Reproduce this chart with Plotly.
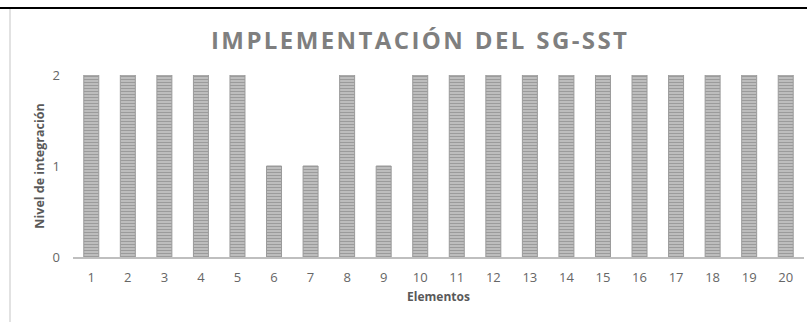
import plotly.graph_objects as go

# Elementos evaluados y su nivel de integración
elementos = [str(i) for i in range(1, 21)]
nivel = [2, 2, 2, 2, 2, 1, 1, 2, 1, 2, 2, 2, 2, 2, 2, 2, 2, 2, 2, 2]
y_ticks = [0, 1, 2]
titulo = "IMPLEMENTACIÓN DEL SG-SST"

W, H = 807, 322
ML, MR, MT, MB = 73, 3, 75, 65

# slight letter spacing for the title (hair spaces, en space between words)
titulo_espaciado = "\u2002".join("\u200a".join(p) for p in titulo.split(" "))

fig = go.Figure()
fig.add_trace(go.Bar(
    x=elementos,
    y=nivel,
    width=0.41,
    marker=dict(
        color="#c8c8c8",
        line=dict(color="#9a9a9a", width=1),
        pattern=dict(shape="-", fgcolor="#6a6a6a", bgcolor="#cdcdcd",
                     size=3, solidity=0.55, fillmode="overlay"),
    ),
    hoverinfo="x+y",
))

fig.update_layout(
    width=W, height=H,
    margin=dict(l=ML, r=MR, t=MT, b=MB),
    paper_bgcolor="white",
    plot_bgcolor="white",
    showlegend=False,
    font=dict(family="Open Sans, Lato, sans-serif", color="#595959", size=11),
    xaxis=dict(
        type="category",
        range=[-0.5, 19.5],
        showgrid=False,
        showline=True, linecolor="#bfbfbf", linewidth=2,
        ticks="", tickfont=dict(size=13, color="#666666"),
        ticklabelstandoff=7,
        title=dict(text="<b>Elementos</b>", font=dict(size=12, color="#595959"),
                   standoff=8),
    ),
    yaxis=dict(
        range=[0, 2],
        tickvals=y_ticks,
        showgrid=False, zeroline=False,
        showline=False, ticks="",
        tickfont=dict(size=13, color="#666666"),
        ticklabelstandoff=12,
        title=dict(text="<b>Nivel de integración</b>", font=dict(size=12.5, color="#595959"),
                   standoff=5),
    ),
    annotations=[
        dict(text="<b>" + titulo_espaciado + "</b>",
             xref="paper", yref="paper",
             x=(419 - ML) / (W - ML - MR), y=1 + (MT - 39) / (H - MT - MB),
             xanchor="center", yanchor="middle", showarrow=False,
             font=dict(size=24, color="#7f7f7f")),
    ],
    shapes=[
        # chart frame
        dict(type="line", xref="paper", yref="paper",
             x0=-(ML - 10) / (W - ML - MR), x1=-(ML - 10) / (W - ML - MR),
             y0=-MB / (H - MT - MB), y1=1 + (MT - 9) / (H - MT - MB),
             line=dict(color="#d9d9d9", width=1.5)),
        dict(type="line", xref="paper", yref="paper",
             x0=-ML / (W - ML - MR), x1=1 + MR / (W - ML - MR),
             y0=1 + (MT - 8) / (H - MT - MB), y1=1 + (MT - 8) / (H - MT - MB),
             line=dict(color="#000000", width=2)),
    ],
)

fig.write_html("out.html")
